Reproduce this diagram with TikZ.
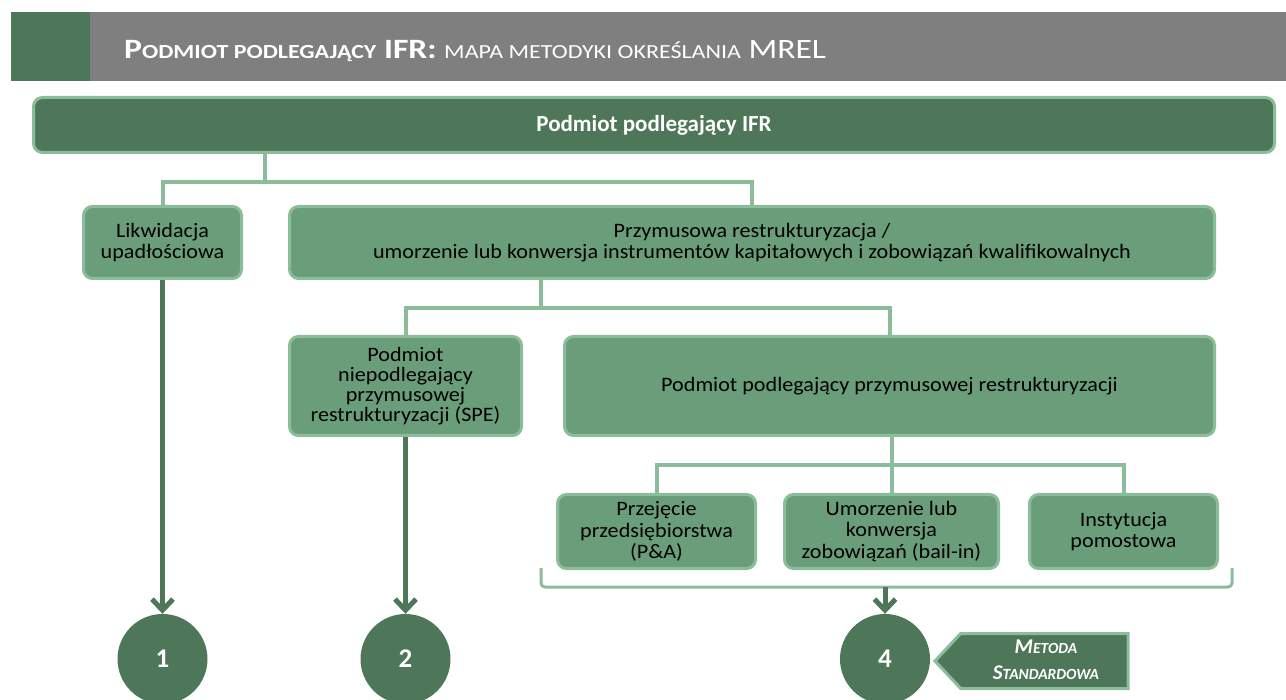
\documentclass[tikz,border=0pt]{standalone}
\usepackage{fontspec}
\setmainfont{Carlito}
\newfontfamily\ttlfont[FakeStretch=1.2]{Carlito}
\newfontfamily\boxfont[FakeStretch=1.08]{Carlito}
\usetikzlibrary{arrows.meta,shapes.symbols}
\definecolor{dkg}{HTML}{4D7758}
\definecolor{mdg}{HTML}{6A9E7A}
\definecolor{ltg}{HTML}{8CBD9A}
\definecolor{hdg}{HTML}{7F7F7F}
\newcommand\tsc[1]{{\fontsize{20}{20}\selectfont #1}}
\newcommand\ssc[1]{{\fontsize{15.5}{15.5}\selectfont #1}}
\begin{document}
\begin{tikzpicture}[x=1pt,y=-1pt,
  box/.style={draw=ltg, line width=3pt, fill=mdg, rounded corners=9pt, align=center, text=black,
    font=\boxfont\fontsize{20.5}{21.5}\selectfont, inner sep=0pt},
  conn/.style={draw=ltg, line width=4pt, line join=miter},
  arr/.style={draw=dkg, line width=5pt, -{Straight Barb[length=11pt,width=21pt,line width=5pt]}},
  num/.style={circle, fill=dkg, minimum size=90pt, text=white, font=\fontsize{27}{27}\selectfont\bfseries, inner sep=0pt}]
\clip (0,0) rectangle (1286,700);
\fill[white] (0,0) rectangle (1286,700);
% header
\fill[hdg] (11,12) rectangle (1286,81);
\fill[dkg] (11,12) rectangle (90,81);
\node[anchor=base west, text=white, inner sep=0pt, font=\ttlfont\fontsize{28}{28}\selectfont] (title) at (124,59)
  {\textbf{P\tsc{ODMIOT PODLEGAJĄCY} IFR:} \tsc{MAPA METODYKI OKREŚLANIA} MREL};
% boxes
\node[box, fill=dkg, text=white, minimum width=1241pt, minimum height=55pt,
  font=\fontsize{23}{23}\selectfont\bfseries] (top) at (654,125) {Podmiot podlegający IFR};
\node[box, minimum width=158pt, minimum height=72pt] (lik) at (162.5,242.5) {Likwidacja\\upadłościowa};
\node[box, minimum width=925pt, minimum height=72pt] (prz) at (752,242.5)
  {Przymusowa restrukturyzacja /\\umorzenie lub konwersja instrumentów kapitałowych i zobowiązań kwalifikowalnych};
\node[box, minimum width=232pt, minimum height=99pt, font=\boxfont\fontsize{20.5}{20}\selectfont] (spe) at (405.5,386)
  {Podmiot\\niepodlegający\\przymusowej\\restrukturyzacji (SPE)};
\node[box, minimum width=650pt, minimum height=99pt] (ppr) at (889.5,386)
  {Podmiot podlegający przymusowej restrukturyzacji};
\node[box, minimum width=198pt, minimum height=74pt] (pa) at (656.5,531.5)
  {Przejęcie\\przedsiębiorstwa\\(P\&A)};
\node[box, minimum width=214pt, minimum height=74pt] (bi) at (891.5,531.5)
  {Umorzenie lub\\konwersja\\zobowiązań (bail-in)};
\node[box, minimum width=188pt, minimum height=74pt] (in) at (1123.5,531.5)
  {Instytucja\\pomostowa};
% circles
\node[num] (c1) at (162.5,659) {1};
\node[num] (c2) at (405.5,659) {2};
\node[num] (c4) at (885,659) {4};
% signal
\node[signal, signal to=west, signal pointer angle=94, fill=dkg, draw=ltg, line width=3pt,
  minimum width=193pt, minimum height=55pt, inner sep=0pt, anchor=east] (sig) at (1129.5,661) {};
\node[text=white, align=center, inner sep=0pt, font=\fontsize{21}{26}\selectfont\bfseries\itshape] (sigtxt) at (1046,660)
  {M\ssc{ETODA}\\S\ssc{TANDARDOWA}};
% connectors
\coordinate (j1) at (265,182);
\draw[conn] (top.south -| j1) -- (j1);
\draw[conn] (lik.north) |- (j1) -| (prz.north);
\coordinate (j2) at (541,308);
\draw[conn] (prz.south -| j2) -- (j2);
\draw[conn] (spe.north) |- (j2) -| (ppr.north);
\coordinate (j3) at (891.5,465);
\draw[conn] (ppr.south -| j3) -- (j3);
\draw[conn] (pa.north) |- (j3) -| (in.north);
\draw[conn] (j3) -- (bi.north);
% bracket
\coordinate (bl) at (541,568);
\coordinate (br) at (1232,568);
\coordinate (bm) at (885,587);
\draw[conn, line width=3pt, rounded corners=4pt] (bl) |- (bm) -| (br);
% arrows
\draw[arr] (lik.south) -- (c1.north);
\draw[arr] (spe.south) -- (c2.north);
\draw[arr] (bm) -- (c4.north);
\end{tikzpicture}
\end{document}
